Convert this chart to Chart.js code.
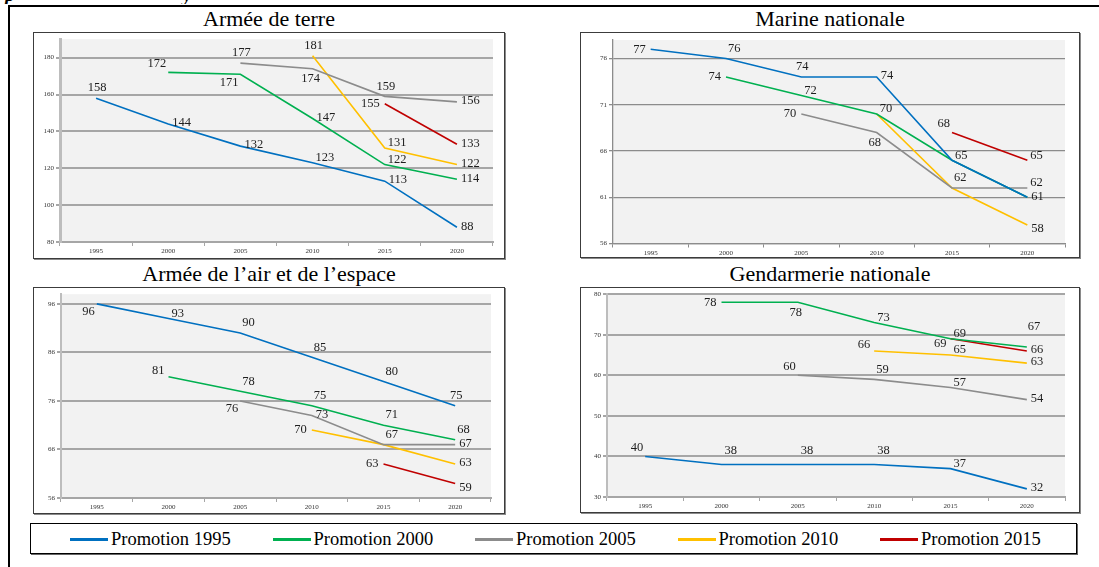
<!DOCTYPE html>
<html>
<head>
<meta charset="utf-8">
<script src="https://cdn.jsdelivr.net/npm/chart.js@4.4.1/dist/chart.umd.min.js"></script>
<style>
  body { margin: 0; width: 1099px; height: 567px; background: #fff; position: relative; overflow: hidden; font-family: "Liberation Serif", serif; }
  .frame-top { position: absolute; left: 8px; top: 5px; width: 1091px; height: 2px; background: #000; }
  .frame-left { position: absolute; left: 8px; top: 5px; width: 2px; height: 562px; background: #000; }
  .cut { position: absolute; left: 0; top: 0; width: 300px; height: 4px; overflow: hidden; }
  .cut span { position: absolute; top: -17px; font: italic bold 20px "Liberation Serif", serif; }
  .title { position: absolute; font-family: "Liberation Serif", serif; font-size: 22px; line-height: 22px; color: #000; text-align: center; white-space: nowrap; }
  .box { position: absolute; border: 1px solid #3c3c3c; box-sizing: border-box; box-shadow: 1px 1px 0 #8a8a8a; background: #fff; }
  .box canvas { position: absolute; left: 0; top: 0; }
  #legend { position: absolute; left: 30px; top: 523px; width: 1047px; height: 31px; border: 1px solid #000; box-sizing: border-box; box-shadow: 1px 1px 0 #666; }
  .lg-line { position: absolute; top: 14px; width: 38px; height: 3px; }
  .lg-text { position: absolute; top: 5px; font-family: "Liberation Serif", serif; font-size: 18.5px; line-height: 20px; color: #000; white-space: nowrap; }
</style>
</head>
<body>
<div class="frame-top"></div>
<div class="frame-left"></div>
<div class="cut"><span style="left:5px">p</span><span style="left:183px">y</span></div>

<div class="title" style="left:33px;width:472px;top:8px">Armée de terre</div>
<div class="title" style="left:580px;width:500px;top:8px">Marine nationale</div>
<div class="title" style="left:33px;width:472px;top:263px">Armée de l’air et de l’espace</div>
<div class="title" style="left:580px;width:500px;top:263px">Gendarmerie nationale</div>

<div class="box" style="left:33px;top:32px;width:472px;height:227px"><canvas id="terre" width="470" height="225"></canvas></div>
<div class="box" style="left:580px;top:32px;width:500px;height:226px"><canvas id="marine" width="498" height="224"></canvas></div>
<div class="box" style="left:33px;top:287px;width:472px;height:227px"><canvas id="air" width="470" height="225"></canvas></div>
<div class="box" style="left:580px;top:287px;width:500px;height:226px"><canvas id="gend" width="498" height="224"></canvas></div>

<div id="legend"></div>

<script>
const years = ['1995', '2000', '2005', '2010', '2015', '2020'];
const promoNames = ['Promotion 1995', 'Promotion 2000', 'Promotion 2005', 'Promotion 2010', 'Promotion 2015'];
const promoColors = ['#0070c0', '#00b050', '#8c8c8c', '#ffc000', '#c00000'];

// Armée de terre
const terre1995 = [158, 144, 132, 123, 113, 88];
const terre2000 = [null, 172, 171, 147, 122, 114];
const terre2005 = [null, null, 177, 174, 159, 156];
const terre2010 = [null, null, null, 181, 131, 122];
const terre2015 = [null, null, null, null, 155, 133];
const terreTicks = [80, 100, 120, 140, 160, 180];

// Marine nationale
const marine1995 = [77, 76, 74, 74, 65, 61];
const marine2000 = [null, 74, 72, 70, 65, 61];
const marine2005 = [null, null, 70, 68, 62, 62];
const marine2010 = [null, null, null, 70, 62, 58];
const marine2015 = [null, null, null, null, 68, 65];
const marineTicks = [56, 61, 66, 71, 76];

// Armée de l'air et de l'espace
const air1995 = [96, 93, 90, 85, 80, 75];
const air2000 = [null, 81, 78, 75, 71, 68];
const air2005 = [null, null, 76, 73, 67, 67];
const air2010 = [null, null, null, 70, 67, 63];
const air2015 = [null, null, null, null, 63, 59];
const airTicks = [56, 66, 76, 86, 96];

// Gendarmerie nationale
const gend1995 = [40, 38, 38, 38, 37, 32];
const gend2000 = [null, 78, 78, 73, 69, 67];
const gend2005 = [null, null, 60, 59, 57, 54];
const gend2010 = [null, null, null, 66, 65, 63];
const gend2015 = [null, null, null, null, 69, 66];
const gendTicks = [30, 40, 50, 60, 70, 80];

// where each value label sits relative to its point
const labelOffsets = {
  r:   [4, -1, 'left'],
  ru:  [3, -5, 'left'],
  rd:  [4, 4, 'left'],
  l:   [-5, 0, 'right'],
  lu:  [-4, -6, 'right'],
  ld:  [-4, 5, 'right'],
  a:   [1, -10, 'center'],
  b:   [-2, 10, 'center'],
  ar:  [2, -10, 'left'],
  ar2: [3, -14, 'left'],
  aar: [1, -20, 'left'],
  al:  [-2, -9, 'right'],
  bl:  [-2, 8, 'right']
};
const terrePos = [
  ['a', 'r', 'r', 'ru', 'r', 'r'],
  [null, 'al', 'bl', 'r', 'ru', 'r'],
  [null, null, 'a', 'b', 'a', 'r'],
  [null, null, null, 'a', 'ru', 'r'],
  [null, null, null, null, 'l', 'r']
];
const marinePos = [
  ['l', 'ar', 'a', 'r', 'ru', 'r'],
  [null, 'l', 'ru', 'ru', 'ru', 'r'],
  [null, null, 'l', 'b', 'ar', 'ru'],
  [null, null, null, 'ru', 'ar', 'rd'],
  [null, null, null, null, 'al', 'ru']
];
const airPos = [
  ['bl', 'ru', 'ar', 'ar', 'ar', 'a'],
  [null, 'lu', 'ar', 'ar', 'ar', 'ar'],
  [null, null, 'bl', 'r', 'ar', 'r'],
  [null, null, null, 'l', 'ar', 'r'],
  [null, null, null, null, 'l', 'rd']
];
const gendPos = [
  ['al', 'ar2', 'ar2', 'ar2', 'ru', 'r'],
  [null, 'l', 'b', 'ru', 'ru', 'aar'],
  [null, null, 'al', 'ar', 'ru', 'r'],
  [null, null, null, 'lu', 'ru', 'r'],
  [null, null, null, null, 'ld', 'r']
];

const plotBackground = {
  id: 'plotBackground',
  beforeDraw(chart) {
    const a = chart.chartArea;
    chart.ctx.save();
    chart.ctx.fillStyle = '#f2f2f2';
    chart.ctx.fillRect(a.left, a.top, a.right - a.left, a.bottom - a.top);
    chart.ctx.restore();
  }
};

const valueLabels = {
  id: 'valueLabels',
  afterDatasetsDraw(chart, args, opts) {
    const ctx = chart.ctx;
    const done = new Set();   // identical labels at the same spot are drawn once
    ctx.save();
    ctx.font = '12.5px "Liberation Serif", serif';
    ctx.fillStyle = '#1e1e1e';
    ctx.textBaseline = 'middle';
    chart.data.datasets.forEach((ds, di) => {
      const meta = chart.getDatasetMeta(di);
      meta.data.forEach((pt, i) => {
        const v = ds.data[i];
        if (v === null) return;
        const o = labelOffsets[opts.pos[di][i] || 'r'];
        const lx = pt.x + o[0], ly = pt.y + o[1];
        const key = v + '@' + Math.round(lx) + ',' + Math.round(ly) + o[2];
        if (done.has(key)) return;
        done.add(key);
        ctx.textAlign = o[2];
        ctx.fillText(v, lx, ly);
      });
    });
    ctx.restore();
  }
};

function makeChart(id, series, yMin, yMax, yTicks, pos, lay) {
  const datasets = series.map((data, i) => ({
    label: promoNames[i],
    data: data,
    borderColor: promoColors[i],
    backgroundColor: promoColors[i],
    borderWidth: 1.6,
    pointRadius: 0,
    tension: 0,
    spanGaps: false
  }));
  return new Chart(document.getElementById(id), {
    type: 'line',
    data: { labels: years, datasets: datasets },
    plugins: [plotBackground, valueLabels],
    options: {
      responsive: false,
      animation: false,
      layout: { padding: { left: 0, top: lay.top, right: lay.right, bottom: 0 } },
      plugins: {
        legend: { display: false },
        tooltip: { enabled: false },
        valueLabels: { pos: pos }
      },
      scales: {
        x: {
          offset: true,
          afterFit: (s) => { s.height = lay.xh; },
          grid: { offset: true, drawOnChartArea: false, tickLength: 4, color: lay.grid, lineWidth: 1 },
          border: { color: lay.grid, width: lay.gw },
          ticks: { font: { family: 'Liberation Serif', size: 7 }, color: '#333', padding: 1, maxRotation: 0 }
        },
        y: {
          min: yMin,
          max: yMax,
          afterBuildTicks: (s) => { s.ticks = yTicks.map(v => ({ value: v })); },
          afterFit: (s) => { s.width = lay.yw; },
          grid: { color: lay.grid, lineWidth: lay.gw, tickLength: 4 },
          border: { color: lay.axis, width: lay.aw },
          ticks: { font: { family: 'Liberation Serif', size: 7 }, color: '#333', padding: 2 }
        }
      }
    }
  });
}

makeChart('terre', [terre1995, terre2000, terre2005, terre2010, terre2015], 80, 190, terreTicks, terrePos,
  { top: 5, right: 11, yw: 26, xh: 16, grid: '#a6a6a6', gw: 2, axis: '#bdbdbd', aw: 3 });
makeChart('marine', [marine1995, marine2000, marine2005, marine2010, marine2015], 56, 78, marineTicks, marinePos,
  { top: 7, right: 14, yw: 32, xh: 13.5, grid: '#8c8c8c', gw: 1.3, axis: '#8c8c8c', aw: 1.3 });
makeChart('air', [air1995, air2000, air2005, air2010, air2015], 56, 98, airTicks, airPos,
  { top: 4, right: 13, yw: 27, xh: 15, grid: '#a6a6a6', gw: 2, axis: '#bdbdbd', aw: 2 });
makeChart('gend', [gend1995, gend2000, gend2005, gend2010, gend2015], 30, 80, gendTicks, gendPos,
  { top: 5, right: 14, yw: 26, xh: 15, grid: '#a6a6a6', gw: 2, axis: '#bdbdbd', aw: 2 });

// shared legend
const legend = document.getElementById('legend');
promoNames.forEach((name, i) => {
  const x = 39 + i * 202.5;
  legend.innerHTML += `<div class="lg-line" style="left:${x}px;background:${promoColors[i]}"></div>` +
                      `<div class="lg-text" style="left:${x + 41}px">${name}</div>`;
});
</script>
</body>
</html>
